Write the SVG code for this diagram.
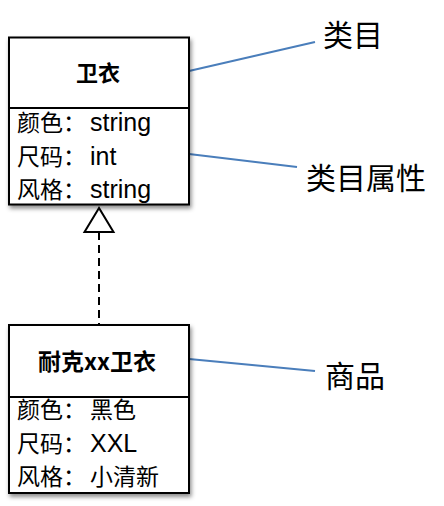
<svg xmlns="http://www.w3.org/2000/svg" width="444" height="506" viewBox="0 0 444 506">
<defs>
<filter id="sh" x="-10%" y="-10%" width="130%" height="130%">
<feDropShadow dx="1.5" dy="3" stdDeviation="2" flood-color="#000" flood-opacity="0.45"/>
</filter>
<style>
.box{fill:#fff;stroke:#000;stroke-width:2;}
.div{stroke:#000;stroke-width:2;}
.title{font-family:"Noto Sans CJK SC","Liberation Sans",sans-serif;font-weight:bold;font-size:22px;fill:#000;text-anchor:middle;}
.attr{font-family:"Noto Sans CJK SC",sans-serif;font-size:23px;fill:#000;}
.lat{font-family:"Liberation Sans",Arial,sans-serif;font-size:25px;}
.lbl{font-family:"Noto Sans CJK SC",sans-serif;font-size:30px;fill:#000;}
.lead{stroke:#4a7ebb;stroke-width:2;fill:none;}
.dash{stroke:#000;stroke-width:2;stroke-dasharray:8,5;fill:none;}
.tri{fill:#fff;stroke:#000;stroke-width:2;}
</style>
</defs>
<rect width="444" height="506" fill="#fff"/>

<g id="connectors">
<line class="lead" x1="189" y1="71" x2="315" y2="42"/>
<line class="lead" x1="189" y1="154" x2="297" y2="167"/>
<line class="lead" x1="189" y1="359" x2="315" y2="371"/>
<line class="dash" x1="99" y1="232" x2="99" y2="325"/>
<polygon class="tri" points="99,208 84.5,232 113.5,232"/>
</g>

<g id="category">
<rect class="box" x="9" y="37.5" width="180" height="167" filter="url(#sh)"/>
<line class="div" x1="9" y1="108" x2="189" y2="108"/>
<text class="title" x="98" y="81">卫衣</text>
<text class="attr" x="17" y="131">颜色：<tspan class="lat" x="90">string</tspan></text>
<text class="attr" x="17" y="165">尺码：<tspan class="lat" x="90">int</tspan></text>
<text class="attr" x="17" y="198">风格：<tspan class="lat" x="90">string</tspan></text>
</g>

<g id="product">
<rect class="box" x="9" y="325" width="180" height="168" filter="url(#sh)"/>
<line class="div" x1="9" y1="397" x2="189" y2="397"/>
<text class="title" x="97" y="370" style="font-size:23px">耐克xx卫衣</text>
<text class="attr" x="17" y="418">颜色：<tspan x="90">黑色</tspan></text>
<text class="attr" x="17" y="452">尺码：<tspan class="lat" x="90">XXL</tspan></text>
<text class="attr" x="17" y="485">风格：<tspan x="90">小清新</tspan></text>
</g>

<g id="label-category">
<text class="lbl" x="323" y="46">类目</text>
</g>
<g id="label-attributes">
<text class="lbl" x="306" y="189">类目属性</text>
</g>
<g id="label-product">
<text class="lbl" x="325" y="387">商品</text>
</g>
</svg>
